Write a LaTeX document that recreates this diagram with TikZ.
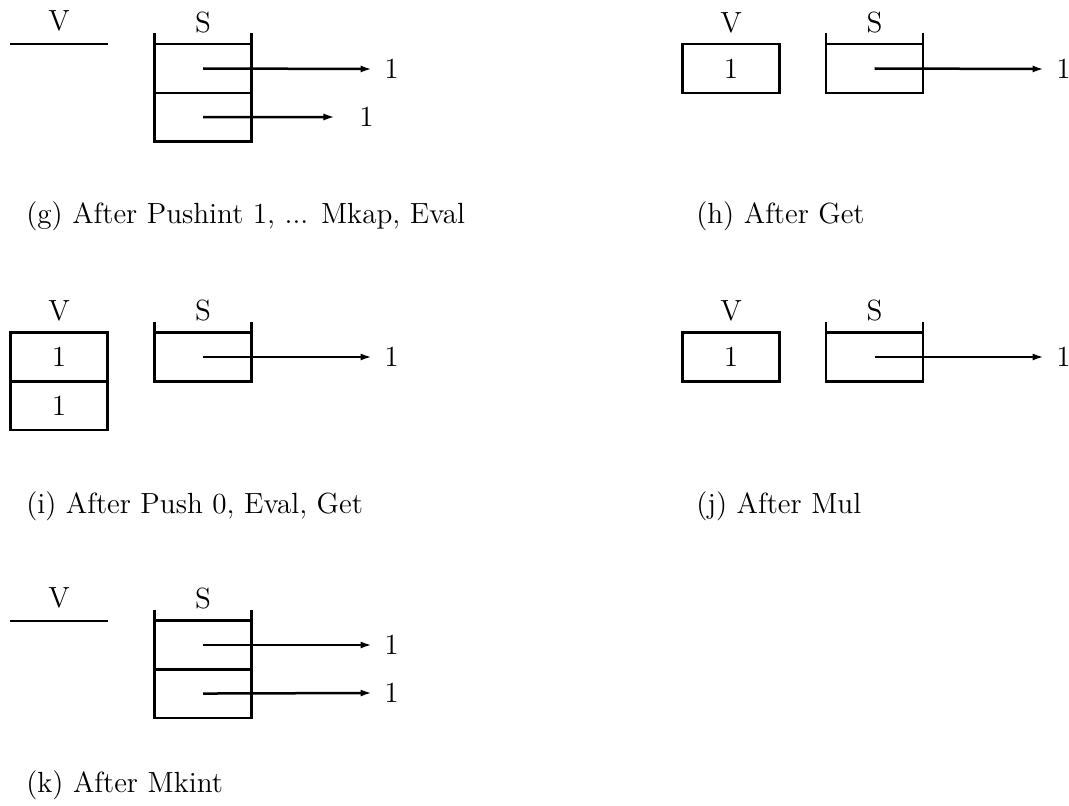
\documentclass[tikz,border=0pt]{standalone}
\usetikzlibrary{arrows.meta,positioning}
\begin{document}
\begin{tikzpicture}[x=0.48pt,y=-0.48pt,line width=1.2pt,
    lbl/.style={font=\fontsize{14}{16}\selectfont},
    subcap/.style={lbl,anchor=base west,inner sep=0pt},
    cell/.style={draw,lbl,minimum width=46.5pt,minimum height=23.3pt,inner sep=0pt,outer sep=0pt},
    val/.style={lbl,anchor=west,inner sep=5.3pt},
    ptr/.style={-{Latex[length=5.5pt,width=3.4pt]}}]
\useasboundingbox (0,0) rectangle (1069,806);

% (g)
\node[lbl] (gV) at (59,21) {V};
\coordinate (gVl) at (10,44);
\coordinate (gVr) at (108,44);
\draw (gVl) -- (gVr);
\node[cell] (gs1) at (203,68.5) {};
\node[cell,below=0pt of gs1] (gs2) {};
\node[lbl,above=1.5pt of gs1] (gS) {S};
\draw (gs1.north west) -- ++(0,-11) (gs1.north east) -- ++(0,-11);
\node[val] (g1) at (372,69) {1};
\node[val] (g2) at (347,117) {1};
\draw[ptr] (gs1.center) -- (g1.west);
\draw[ptr,shorten >=5.8pt] (gs2.center) -- (g2.west);
\node[subcap] (gcap) at (25,223) {(g) After Pushint 1, ... Mkap, Eval};

% (h)
\node[cell] (hv1) at (731,68.5) {1};
\node[lbl,above=1.5pt of hv1] (hV) {V};
\node[cell] (hs1) at (874.5,68.5) {};
\node[lbl,above=1.5pt of hs1] (hS) {S};
\draw (hs1.north west) -- ++(0,-11) (hs1.north east) -- ++(0,-11);
\node[val] (h1) at (1044,69) {1};
\draw[ptr] (hs1.center) -- (h1.west);
\node[subcap] (hcap) at (695,223) {(h) After Get};

% (i)
\node[cell] (iv1) at (59,357) {1};
\node[cell,below=0pt of iv1] (iv2) {1};
\node[lbl,above=1.5pt of iv1] (iV) {V};
\node[cell] (is1) at (203,357) {};
\node[lbl,above=1.5pt of is1] (iS) {S};
\draw (is1.north west) -- ++(0,-11) (is1.north east) -- ++(0,-11);
\node[val] (i1) at (372,357) {1};
\draw[ptr] (is1.center) -- (i1.west);
\node[subcap] (icap) at (25,513) {(i) After Push 0, Eval, Get};

% (j)
\node[cell] (jv1) at (731,357) {1};
\node[lbl,above=1.5pt of jv1] (jV) {V};
\node[cell] (js1) at (874.5,357) {};
\node[lbl,above=1.5pt of js1] (jS) {S};
\draw (js1.north west) -- ++(0,-11) (js1.north east) -- ++(0,-11);
\node[val] (j1) at (1044,357) {1};
\draw[ptr] (js1.center) -- (j1.west);
\node[subcap] (jcap) at (695,513) {(j) After Mul};

% (k)
\node[lbl] (kV) at (59,598) {V};
\coordinate (kVl) at (10,621);
\coordinate (kVr) at (108,621);
\draw (kVl) -- (kVr);
\node[cell] (ks1) at (203,645) {};
\node[cell,below=0pt of ks1] (ks2) {};
\node[lbl,above=1.5pt of ks1] (kS) {S};
\draw (ks1.north west) -- ++(0,-11) (ks1.north east) -- ++(0,-11);
\node[val] (k1) at (372,645) {1};
\node[val] (k2) at (372,693) {1};
\draw[ptr] (ks1.center) -- (k1.west);
\draw[ptr] (ks2.center) -- (k2.west);
\node[subcap] (kcap) at (25,792) {(k) After Mkint};
\end{tikzpicture}
\end{document}
